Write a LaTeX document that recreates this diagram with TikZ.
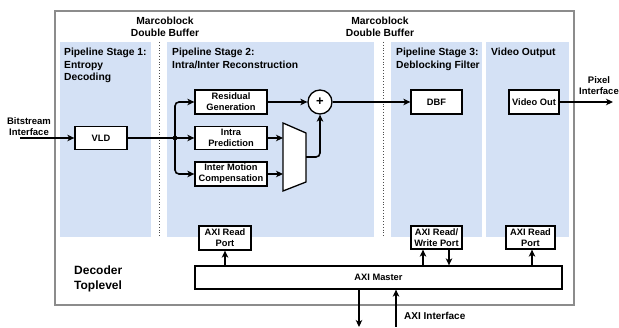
\documentclass[tikz,border=0pt]{standalone}
\usepackage{fontspec}
\setmainfont{Liberation Sans}
\usetikzlibrary{arrows.meta, calc, positioning}
\definecolor{stageblue}{RGB}{212,225,245}
\definecolor{framegray}{RGB}{140,140,140}
\tikzset{
    blk/.style={draw, line width=1.3pt, fill=white, align=center, inner sep=1pt,
        font=\fontsize{9.3}{11}\selectfont\bfseries},
    title/.style={anchor=north west, align=left, inner sep=0pt,
        font=\fontsize{10.3}{12.5}\selectfont\bfseries},
    lbl/.style={align=center, inner sep=0pt, font=\fontsize{9.5}{11}\selectfont\bfseries},
    sig/.style={-{Stealth[length=7pt,width=6.5pt,inset=2pt]}, line width=1.6pt},
    buf/.style={dotted, line width=0.8pt, black!70},
}

\begin{document}
\begin{tikzpicture}[x=1pt, y=-1pt]
    \useasboundingbox (0,0) rectangle (619,328);

    % Toplevel frame
    \draw[framegray, line width=1.2pt] (55,11) rectangle (574,305);
    \node[anchor=west, align=left, inner sep=0pt, font=\fontsize{12}{15}\selectfont\bfseries]
        (top) at (74,278.5) {Decoder\\Toplevel};

    % Stage panels
    \fill[stageblue] (60,42) rectangle (151,237);
    \fill[stageblue] (167,42) rectangle (374,237);
    \fill[stageblue] (391,42) rectangle (482,237);
    \fill[stageblue] (486,42) rectangle (569,237);
    \node[title] (st1) at (64,48) {Pipeline Stage 1:\\Entropy\\Decoding};
    \node[title] (st2) at (172,48) {Pipeline Stage 2:\\Intra/Inter Reconstruction};
    \node[title] (st3) at (396,48) {Pipeline Stage 3:\\Deblocking Filter};
    \node[title] (st4) at (491,48) {Video Output};

    % Macroblock buffers
    \draw[buf] (159,42) -- (159,237);
    \draw[buf] (383,42) -- (383,237);
    \node[lbl, font=\fontsize{10.3}{12.5}\selectfont\bfseries] (buf1) at (165,27) {Marcoblock\\Double Buffer};
    \node[lbl, font=\fontsize{10.3}{12.5}\selectfont\bfseries] (buf2) at (380,27) {Marcoblock\\Double Buffer};

    % Blocks
    \node[blk, minimum width=52pt, minimum height=23pt] (vld) at (101,138) {VLD};
    \node[blk, minimum width=72pt, minimum height=24pt] (resid) at (231,102) {Residual\\Generation};
    \node[blk, minimum width=72pt, minimum height=23pt] (intra) at (231,138) {Intra\\Prediction};
    \node[blk, minimum width=72pt, minimum height=24pt] (inter) at (231,174) {Inter Motion\\Compensation};
    \node[draw, circle, line width=1.3pt, fill=white, minimum size=24pt, inner sep=0pt,
        font=\fontsize{13}{13}\selectfont\bfseries] (add) at (320,102) {+};
    \node[blk, minimum width=51pt, minimum height=24pt] (dbf) at (436.5,102) {DBF};
    \node[blk, minimum width=50pt, minimum height=24pt] (vout) at (534,102) {Video Out};

    % Mux
    \draw[line width=1.3pt, fill=white] (283,123) -- (306,133) -- (306,182) -- (283,191) -- cycle;
    \coordinate (muxa) at (283,138);
    \coordinate (muxb) at (283,174);
    \coordinate (muxo) at (306,157);

    % Ports and AXI master
    \node[blk, minimum width=52pt, minimum height=24pt] (rport1) at (225,238) {AXI Read\\Port};
    \node[blk, minimum width=51pt, minimum height=23pt] (rwport) at (436.5,237.5) {AXI Read/\\Write Port};
    \node[blk, minimum width=49pt, minimum height=23pt] (rport2) at (530.5,237.5) {AXI Read\\Port};
    \node[blk, minimum width=367pt, minimum height=23pt] (master) at (378.5,277.5) {AXI Master};

    % Interfaces
    \node[lbl] (bsif) at (29,127) {Bitstream\\Interface};
    \node[lbl] (pxif) at (599,86) {Pixel\\Interface};
    \node[anchor=west, inner sep=0pt, font=\fontsize{10}{12}\selectfont\bfseries] (axif) at (404,316) {AXI Interface};
    \coordinate (bsin) at (20,138);
    \coordinate (pxout) at (613,102);
    \coordinate (axiout) at (359,327);
    \coordinate (axiin) at (396,327);

    % Data path
    \draw[sig] (bsin) -- (vld.west);
    \draw[sig] (vld.east) -- (intra.west);
    \coordinate (split) at (175,138);
    \fill (split) circle (2.4pt);
    \draw[sig, rounded corners=4pt] (split) |- (resid.west);
    \draw[sig, rounded corners=4pt] (split) |- (inter.west);
    \draw[sig] (intra.east) -- (muxa);
    \draw[sig] (inter.east) -- (muxb);
    \draw[sig, rounded corners=4pt] (muxo) -| (add.south);
    \draw[sig] (resid.east) -- (add.west);
    \draw[sig] (add.east) -- (dbf.west);
    \draw[sig] (vout.east) -- (pxout);

    % AXI connections
    \draw[sig] (rport1.south |- master.north) -- (rport1.south);
    \draw[sig] ([xshift=-13.5pt]rwport.south |- master.north) -- ([xshift=-13.5pt]rwport.south);
    \draw[sig] ([xshift=12.5pt]rwport.south) -- ([xshift=12.5pt]rwport.south |- master.north);
    \draw[sig] ([xshift=1.5pt]rport2.south |- master.north) -- ([xshift=1.5pt]rport2.south);
    \draw[sig] (axiout |- master.south) -- (axiout);
    \draw[sig] (axiin) -- (axiin |- master.south);
\end{tikzpicture}
\end{document}
